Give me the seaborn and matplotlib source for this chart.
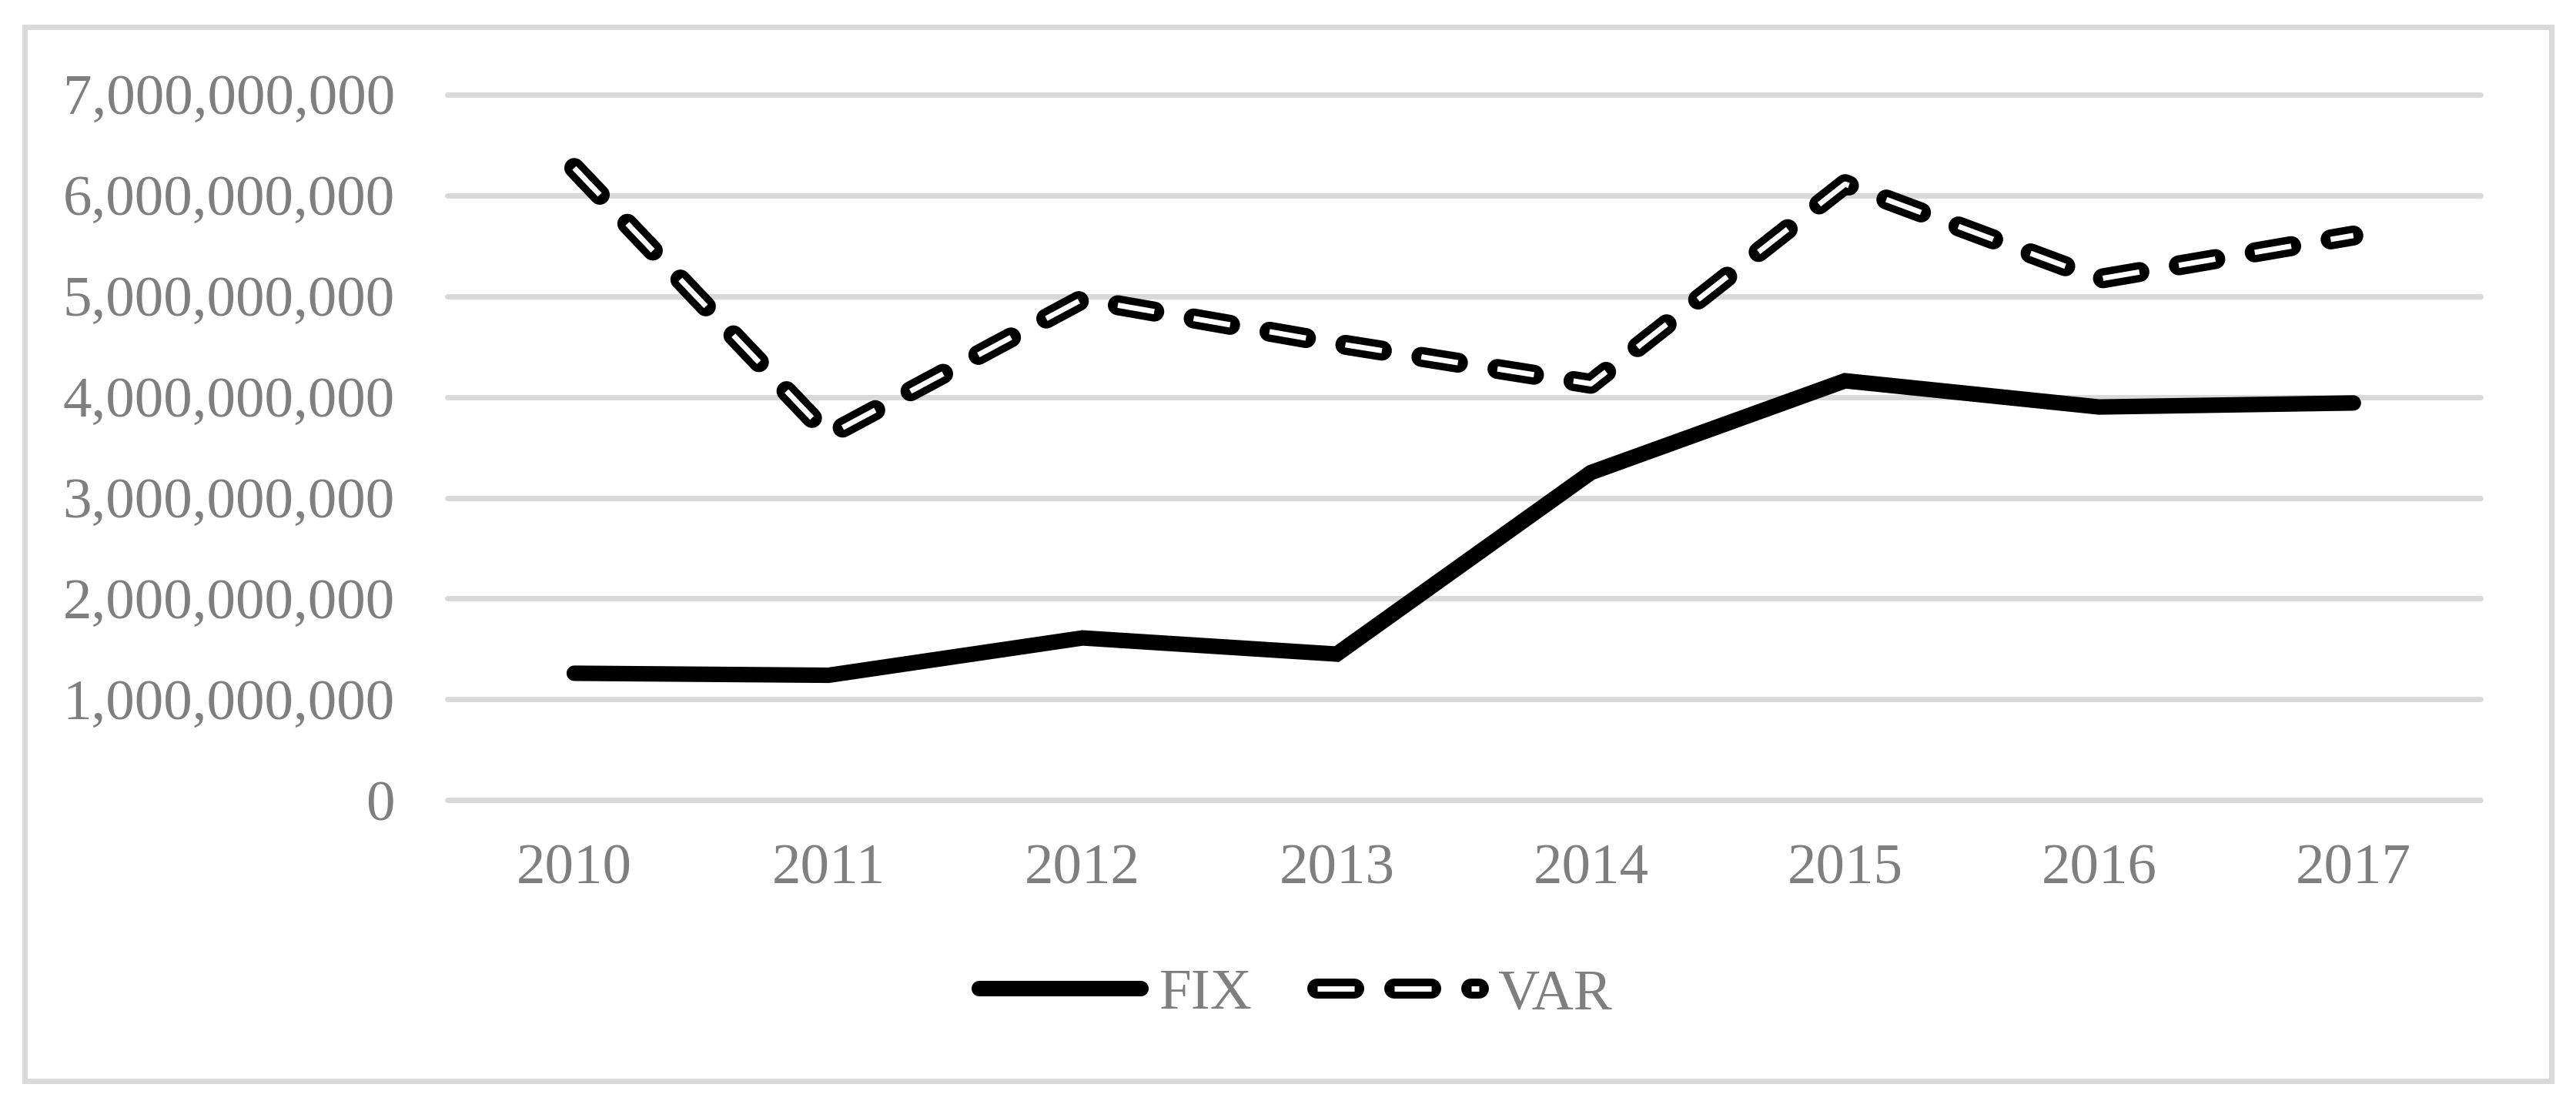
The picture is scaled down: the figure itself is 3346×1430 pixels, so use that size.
import matplotlib
matplotlib.use("Agg")
import matplotlib.pyplot as plt
import seaborn as sns
import pandas as pd
from matplotlib.patches import Rectangle
from matplotlib.ticker import FuncFormatter
from matplotlib.legend_handler import HandlerTuple

# ---- data ----
years = ["2010", "2011", "2012", "2013", "2014", "2015", "2016", "2017"]
fix_values = [1.26e9, 1.24e9, 1.61e9, 1.45e9, 3.25e9, 4.16e9, 3.90e9, 3.94e9]
var_values = [6.27e9, 3.62e9, 4.97e9, 4.53e9, 4.13e9, 6.11e9, 5.17e9, 5.60e9]
y_ticks = [0, 1e9, 2e9, 3e9, 4e9, 5e9, 6e9, 7e9]

df = pd.DataFrame({"year": years, "FIX": fix_values, "VAR": var_values})

sns.set_theme(style="white")
plt.rcParams["font.family"] = ["Liberation Serif", "DejaVu Serif"]
plt.rcParams["lines.scale_dashes"] = False

GRAY_TXT = "#7f7f7f"
GRID = "#d9d9d9"
FS = 54

fig = plt.figure(figsize=(33.46, 14.30), dpi=100)
ax = fig.add_axes([0.1736, 0.2731, 0.9629 - 0.1736, 0.9143 - 0.2731])

# FIX: thick solid black
sns.lineplot(data=df, x="year", y="FIX", ax=ax, color="black", linewidth=14.5,
             solid_capstyle="round", solid_joinstyle="miter", zorder=3, sort=False)
# VAR: outlined dashes (black wide dash + white inner dash)
dash = (0, (34.6, 37.4))
sns.lineplot(data=df, x="year", y="VAR", ax=ax, color="black", linewidth=18.7,
             linestyle=dash, dash_capstyle="round", dash_joinstyle="round", zorder=4, sort=False)
sns.lineplot(data=df, x="year", y="VAR", ax=ax, color="white", linewidth=5.0,
             linestyle=dash, dash_capstyle="butt", dash_joinstyle="round", zorder=5, sort=False)

ax.set_xlim(-0.5, len(years) - 0.5)
ax.set_ylim(0, 7e9)
ax.set_yticks(y_ticks)
ax.yaxis.set_major_formatter(FuncFormatter(lambda v, p: f"{int(round(v)):,}"))
ax.set_xlabel("")
ax.set_ylabel("")
for s in ax.spines.values():
    s.set_visible(False)
ax.grid(axis="y", color=GRID, linewidth=5.0)
ax.grid(axis="x", visible=False)
for gl in ax.yaxis.get_gridlines():
    gl.set_clip_on(False)
ax.set_axisbelow(True)
ax.tick_params(axis="y", length=0, pad=49, labelsize=FS, labelcolor=GRAY_TXT)
ax.tick_params(axis="x", length=0, pad=41, labelsize=FS, labelcolor=GRAY_TXT)

# legend
lines = ax.get_lines()
h_fix = lines[0]
h_var = (lines[1], lines[2])
leg = fig.legend([h_fix, h_var], ["FIX", "VAR"], loc="center",
                 bbox_to_anchor=(0.503, 1 - 1292 / 1430), ncol=2, frameon=False,
                 fontsize=FS, labelcolor=GRAY_TXT, handlelength=2.8,
                 handletextpad=0.32, columnspacing=1.13,
                 handler_map={tuple: HandlerTuple(ndivide=1)})

# outer chart border
fig.patches.append(Rectangle((31.5 / 3346, 1 - 1403.5 / 1430),
                             (3314 - 31.5) / 3346, (1403.5 - 35) / 1430,
                             transform=fig.transFigure, fill=False,
                             edgecolor=GRID, linewidth=5.0))

fig.savefig("out.png", dpi=100, facecolor="white")
